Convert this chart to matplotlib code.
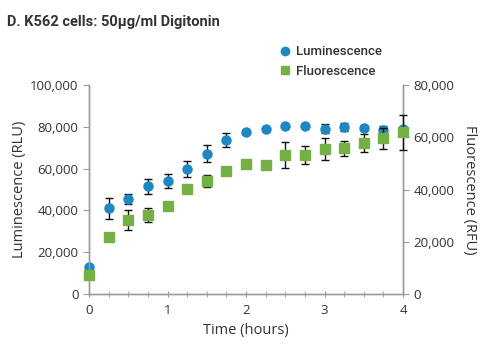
import matplotlib
matplotlib.use("Agg")
import matplotlib.pyplot as plt
from matplotlib.ticker import FuncFormatter, MultipleLocator
from matplotlib.lines import Line2D

time_h = [0, 0.25, 0.5, 0.75, 1, 1.25, 1.5, 1.75, 2, 2.25, 2.5, 2.75, 3, 3.25, 3.5, 3.75, 4]
lum = [13000, 41000, 45400, 51500, 53900, 59800, 67100, 73800, 77600, 78800, 80400, 80500, 79100, 80000, 79300, 78600, 79000]
lum_err = [800, 5000, 2500, 3700, 3300, 3700, 4100, 3300, 900, 800, 800, 800, 2200, 2000, 900, 1600, 900]
flu = [7300, 21700, 28200, 30100, 33600, 40100, 43300, 47100, 49600, 49500, 53100, 53300, 55600, 55800, 57700, 59600, 61900]
flu_err = [600, 800, 3800, 2700, 800, 800, 2200, 800, 800, 800, 5000, 3500, 4300, 2900, 3400, 4100, 6600]

title = "D. K562 cells: 50\u00b5g/ml Digitonin"
lum_color = "#1c87c2"
flu_color = "#74b043"
spine_color = "#9a9a9a"
text_color = "#333333"

fig = plt.figure(figsize=(4.85, 3.5), dpi=100)
ax = fig.add_axes([0.1835, 0.16, 0.6475, 0.597])
ax2 = ax.twinx()

e1 = ax.errorbar(time_h, lum, yerr=lum_err, fmt="o", color=lum_color, ms=6.5,
                 ecolor="#111111", elinewidth=1.0, capsize=3, capthick=1.0, zorder=3)
e2 = ax2.errorbar(time_h, flu, yerr=flu_err, fmt="s", color=flu_color, ms=7,
                  ecolor="#111111", elinewidth=1.0, capsize=3, capthick=1.0, zorder=3)
for cont in (e1, e2):
    for art in cont.get_children():
        art.set_clip_on(False)

ax.set_xlim(0, 4)
ax.set_ylim(0, 100000)
ax2.set_ylim(0, 80000)
ax.set_xticks([0, 1, 2, 3, 4])
ax.xaxis.set_minor_locator(MultipleLocator(0.25))
ax.set_yticks([0, 20000, 40000, 60000, 80000, 100000])
ax2.set_yticks([0, 20000, 40000, 60000, 80000])
fmt = FuncFormatter(lambda v, p: f"{int(v):,}")
ax.yaxis.set_major_formatter(fmt)
ax2.yaxis.set_major_formatter(fmt)

tick_font = "Open Sans"
for a in (ax, ax2):
    a.spines["top"].set_visible(False)
    for s in a.spines.values():
        s.set_color(spine_color)
        s.set_linewidth(1.0)
    a.tick_params(colors=spine_color, labelcolor=text_color, labelsize=9.5, length=4, width=0.8)
    for lbl in a.get_yticklabels() + a.get_xticklabels():
        lbl.set_family(tick_font)
ax.tick_params(axis="x", which="major", direction="inout", length=5)
ax.tick_params(axis="x", which="minor", direction="inout", length=4, color=spine_color)
ax.tick_params(axis="x", pad=5)

ax.set_xlabel("Time (hours)", fontsize=10.5, family=tick_font, color=text_color, labelpad=4)
ax.set_ylabel("Luminescence (RLU)", fontsize=10.5, family=tick_font, color=text_color, labelpad=2)
ax2.set_ylabel("Fluorescence (RFU)", fontsize=10.5, family=tick_font, color=text_color,
               rotation=270, labelpad=16)

fig.text(0.014, 0.937, title, fontsize=10.5, fontweight="bold", family="Roboto",
         color=text_color, va="center", ha="left")

handles = [Line2D([], [], ls="", marker="o", color=lum_color, ms=6),
           Line2D([], [], ls="", marker="s", color=flu_color, ms=6)]
leg = fig.legend(handles, ["Luminescence", "Fluorescence"], loc="upper left",
                 bbox_to_anchor=(0.55, 0.905), frameon=False, handletextpad=0.3,
                 labelspacing=0.5, handlelength=1.0,
                 prop={"family": "Roboto", "weight": "medium", "size": 9.5})
for t in leg.get_texts():
    t.set_color(text_color)

fig.savefig("out.png", dpi=100)
